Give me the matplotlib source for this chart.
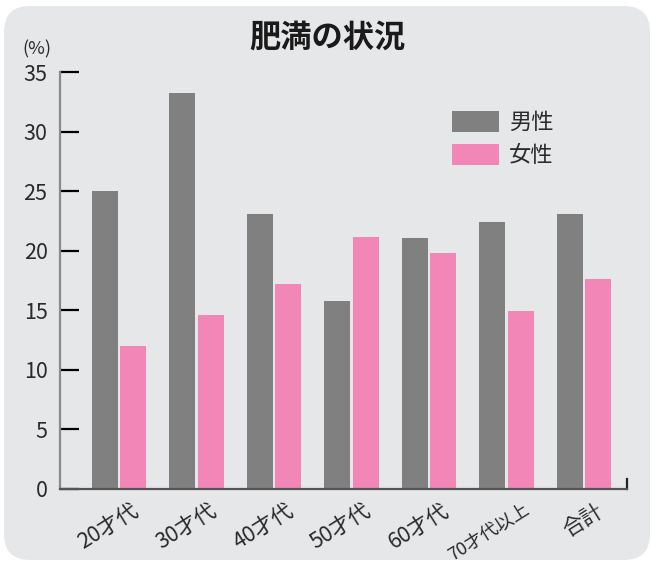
import matplotlib
matplotlib.use("Agg")
import matplotlib.pyplot as plt
import numpy as np
from matplotlib.patches import FancyBboxPatch
import matplotlib.transforms as mtransforms

plt.rcParams['font.family'] = ['Noto Sans CJK JP', 'DejaVu Sans']

categories = ["20才代", "30才代", "40才代", "50才代", "60才代", "70才代以上", "合計"]
male = [25.0, 33.3, 23.1, 15.8, 21.1, 22.4, 23.1]
female = [12.0, 14.6, 17.2, 21.2, 19.8, 14.9, 17.6]
series_names = ["男性", "女性"]
yticks = [0, 5, 10, 15, 20, 25, 30, 35]

W, H = 652, 563
fig = plt.figure(figsize=(W / 100, H / 100), dpi=100)
fig.patch.set_facecolor("white")

bg = FancyBboxPatch((4 / 100, 3 / 100), (650 - 4) / 100, (557 - 3) / 100,
                    boxstyle="round,pad=0,rounding_size=0.26",
                    transform=fig.dpi_scale_trans, facecolor="#e6e7e9",
                    edgecolor="none", zorder=-5)
fig.patches.append(bg)

ax = fig.add_axes([60 / W, 1 - 488.8 / H, (627 - 60) / W, (488.8 - 72.3) / H])
ax.set_facecolor("none")
ax.set_zorder(2)

x = np.arange(len(categories))
bw = 0.335
off = 0.183
b1 = ax.bar(x - off, male, bw, color="#808080", label=series_names[0], zorder=2)
b2 = ax.bar(x + off, female, bw, color="#f287b7", label=series_names[1], zorder=2)

ax.set_xlim(-0.761, 6.555)
ax.set_ylim(0, 35)
ax.set_yticks(yticks)
ax.tick_params(axis='y', direction='in', length=14, width=1.6, color='black',
               labelsize=15.5, pad=9, labelcolor='#2a2a2a')
ax.set_xticks(x)
ax.set_xticklabels([])
ax.tick_params(axis='x', length=0)

for s in ['top', 'right']:
    ax.spines[s].set_visible(False)
ax.spines['left'].set_color('#8a8a8a')
ax.spines['left'].set_linewidth(1.6)
ax.spines['bottom'].set_color('#555555')
ax.spines['bottom'].set_linewidth(1.6)
ax.axvline(6.555, ymin=0, ymax=10 / 416.5, color='#222222', lw=1.6, clip_on=False)

# rotated category labels
for xi, lab in zip(x, categories):
    long = len(lab) > 4
    dx = 16 if long else 12
    offset = mtransforms.ScaledTranslation(dx / 100, -11 / 100, fig.dpi_scale_trans)
    ax.text(xi, 0, lab, rotation=32, ha='right', va='top', rotation_mode='anchor',
            fontsize=13 if long else 15.5, color='#2a2a2a',
            transform=ax.get_xaxis_transform() + offset)

fig.text(22 / W, 1 - 49 / H, "(%)", fontsize=13, color='#2a2a2a',
         va='center', ha='left')
fig.text(327 / W, 1 - 38 / H, "肥満の状況", fontsize=22.5, fontweight='bold',
         color='#1a1a1a', ha='center', va='center')

leg = ax.legend(loc='upper left', bbox_to_anchor=(452 / W, 1 - 111 / H),
                bbox_transform=fig.transFigure, frameon=False, fontsize=16,
                handlelength=2.1, handleheight=1.05, handletextpad=0.45,
                labelspacing=0.45, borderpad=0, borderaxespad=0)
for t in leg.get_texts():
    t.set_color('#2a2a2a')

fig.savefig("out.png", dpi=100, facecolor="white")
